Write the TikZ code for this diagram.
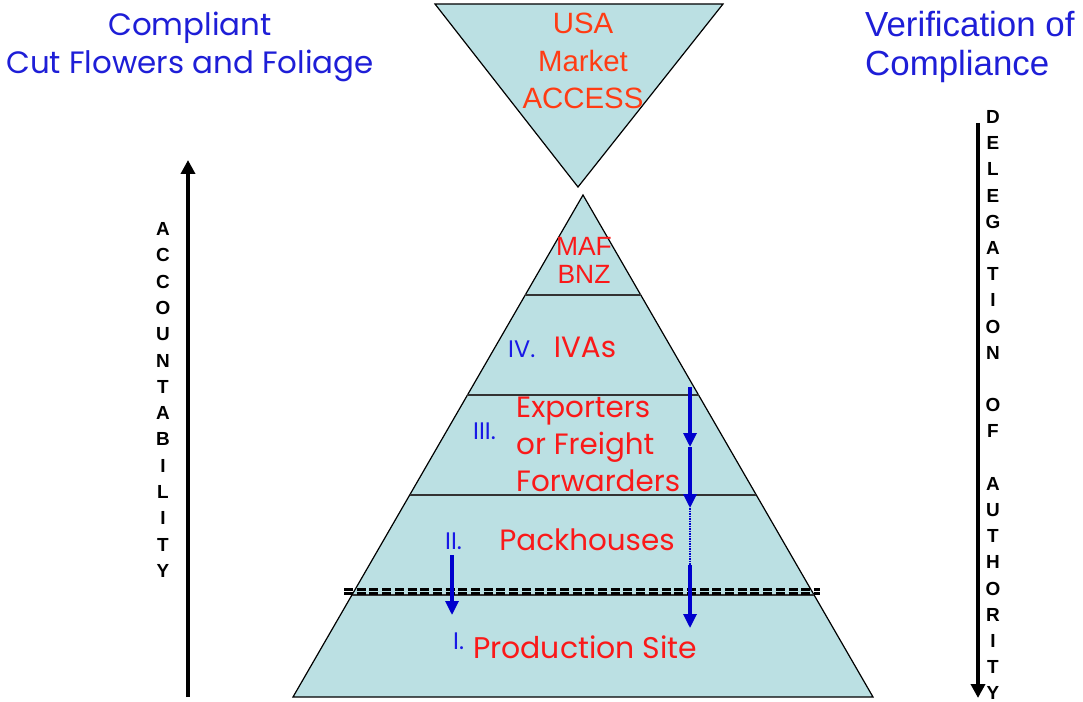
\documentclass[tikz,border=0pt]{standalone}
\usepackage{fontspec}
\setmainfont{Liberation Sans}
\newfontfamily\gothic{Poppins}
\usetikzlibrary{arrows.meta,calc}

\definecolor{pyrfill}{RGB}{187,224,227}
\definecolor{tierred}{RGB}{250,25,25}
\definecolor{usared}{RGB}{255,60,20}
\definecolor{numblue}{RGB}{25,25,230}
\definecolor{headblue}{RGB}{30,30,215}
\definecolor{flowblue}{RGB}{0,0,205}

\begin{document}
\begin{tikzpicture}[x=1bp,y=-1bp]
\tikzstyle{pyramid} = [draw=black, line width=1.2bp, fill=pyrfill]
\tikzstyle{tierline} = [draw=black!80, line width=1.6bp]
\tikzstyle{dashrule} = [draw=black, line width=2.6bp, dash pattern=on 9bp off 3.7bp]
\tikzstyle{header} = [text=headblue, inner sep=0pt]
\tikzstyle{tier} = [text=tierred, inner sep=0pt, font=\gothic\fontsize{29.5}{37}\selectfont]
\tikzstyle{tiernum} = [text=numblue, inner sep=0pt, anchor=base west, font=\gothic\fontsize{24}{28}\selectfont]
\tikzstyle{vletter} = [inner sep=0pt, anchor=base, font=\bfseries\fontsize{19}{22}\selectfont]
\tikzstyle{bigarrow} = [draw, line width=4.6bp, -{Triangle[length=14bp,width=14bp]}]
\tikzstyle{flow} = [draw=flowblue, line width=3.2bp, -{Triangle[length=14bp,width=13bp]}, color=flowblue]
\useasboundingbox (0,0) rectangle (1083,702);

% market access (inverted triangle)
\coordinate (topL) at (435,4);
\coordinate (topR) at (723,4);
\coordinate (tip) at (578,187);
\filldraw[pyramid] (topL) -- (topR) -- (tip) -- cycle;
\node[inner sep=0pt, text=usared, align=center, font=\fontsize{29.5}{37.5}\selectfont] (usa) at (583,61) {USA\\Market\\ACCESS};

% pyramid of tiers
\coordinate (apex) at (583,195);
\coordinate (baseL) at (293,697);
\coordinate (baseR) at (873,697);
\filldraw[pyramid] (apex) -- (baseR) -- (baseL) -- cycle;
\foreach \t in {0.1992,0.3984,0.5976,0.7968}
  \draw[tierline] ($(apex)!\t!(baseL)$) -- ($(apex)!\t!(baseR)$);

% dashed double rule
\coordinate (dashL) at (344,589.6);
\coordinate (dashR) at (820,589.6);
\coordinate (dashL2) at (344,593.4);
\coordinate (dashR2) at (820,593.4);
\draw[dashrule] (dashL) -- (dashR);
\draw[dashrule] (dashL2) -- (dashR2);

% tier labels
\node[inner sep=0pt, text=tierred, align=center, font=\fontsize{26.5}{28}\selectfont] (maf) at (584,260) {MAF\\BNZ};
\node[tier, anchor=base] (iva) at (585,357) {IVAs};
\node[tier, anchor=north west, align=left] (exp) at (516,397) {Exporters\\or Freight\\Forwarders};
\node[tier, anchor=base] (pack) at (587,550) {Packhouses};
\node[tier, anchor=base, font=\gothic\fontsize{30}{37}\selectfont] (prod) at (585,658) {Production Site};
\node[tiernum] (n4) at (508,357) {IV.};
\node[tiernum] (n3) at (473,439) {III.};
\node[tiernum] (n2) at (445,549) {II.};
\node[tiernum] (n1) at (453,649) {I.};

% headers
\node[header, align=center, font=\gothic\fontsize{31}{38}\selectfont] (lefthead) at (190,47) {Compliant\\Cut Flowers and Foliage};
\node[header, align=left, anchor=west, font=\fontsize{35}{39}\selectfont] (righthead) at (865,47) {Verification of\\Compliance};

% accountability / delegation
\coordinate (accBot) at (188,697);
\coordinate (accTop) at (188,160);
\draw[bigarrow] (accBot) -- (accTop);
\coordinate (delTop) at (978,123);
\coordinate (delBot) at (978,698);
\draw[bigarrow] (delTop) -- (delBot);
\foreach \ch [count=\i] in {A,C,C,O,U,N,T,A,B,I,L,I,T,Y}
  \node[vletter] (acc\i) at (163,{235.5+26.3*(\i-1)}) {\ch};
\foreach \ch/\k in {D/0,E/1,L/2,E/3,G/4,A/5,T/6,I/7,O/8,N/9,O/11,F/12,A/14,U/15,T/16,H/17,O/18,R/19,I/20,T/21,Y/22}
  \node[vletter] (del\k) at (993,{123.5+26.2*\k}) {\ch};

% flow of verification
\coordinate (f0) at (690,387);
\coordinate (f1) at (690,447);
\coordinate (f2) at (690,508);
\coordinate (f3) at (690,565);
\coordinate (f4) at (690,628);
\draw[flow] (f0) -- (f1);
\draw[flow] (f1) -- (f2);
\draw[flowblue, line width=1.6bp, dash pattern=on 1.5bp off 1bp] (f2) -- (f3);
\draw[flow] (f3) -- (f4);
\coordinate (g0) at (452,555);
\coordinate (g1) at (452,615);
\draw[flow] (g0) -- (g1);
\end{tikzpicture}
\end{document}
